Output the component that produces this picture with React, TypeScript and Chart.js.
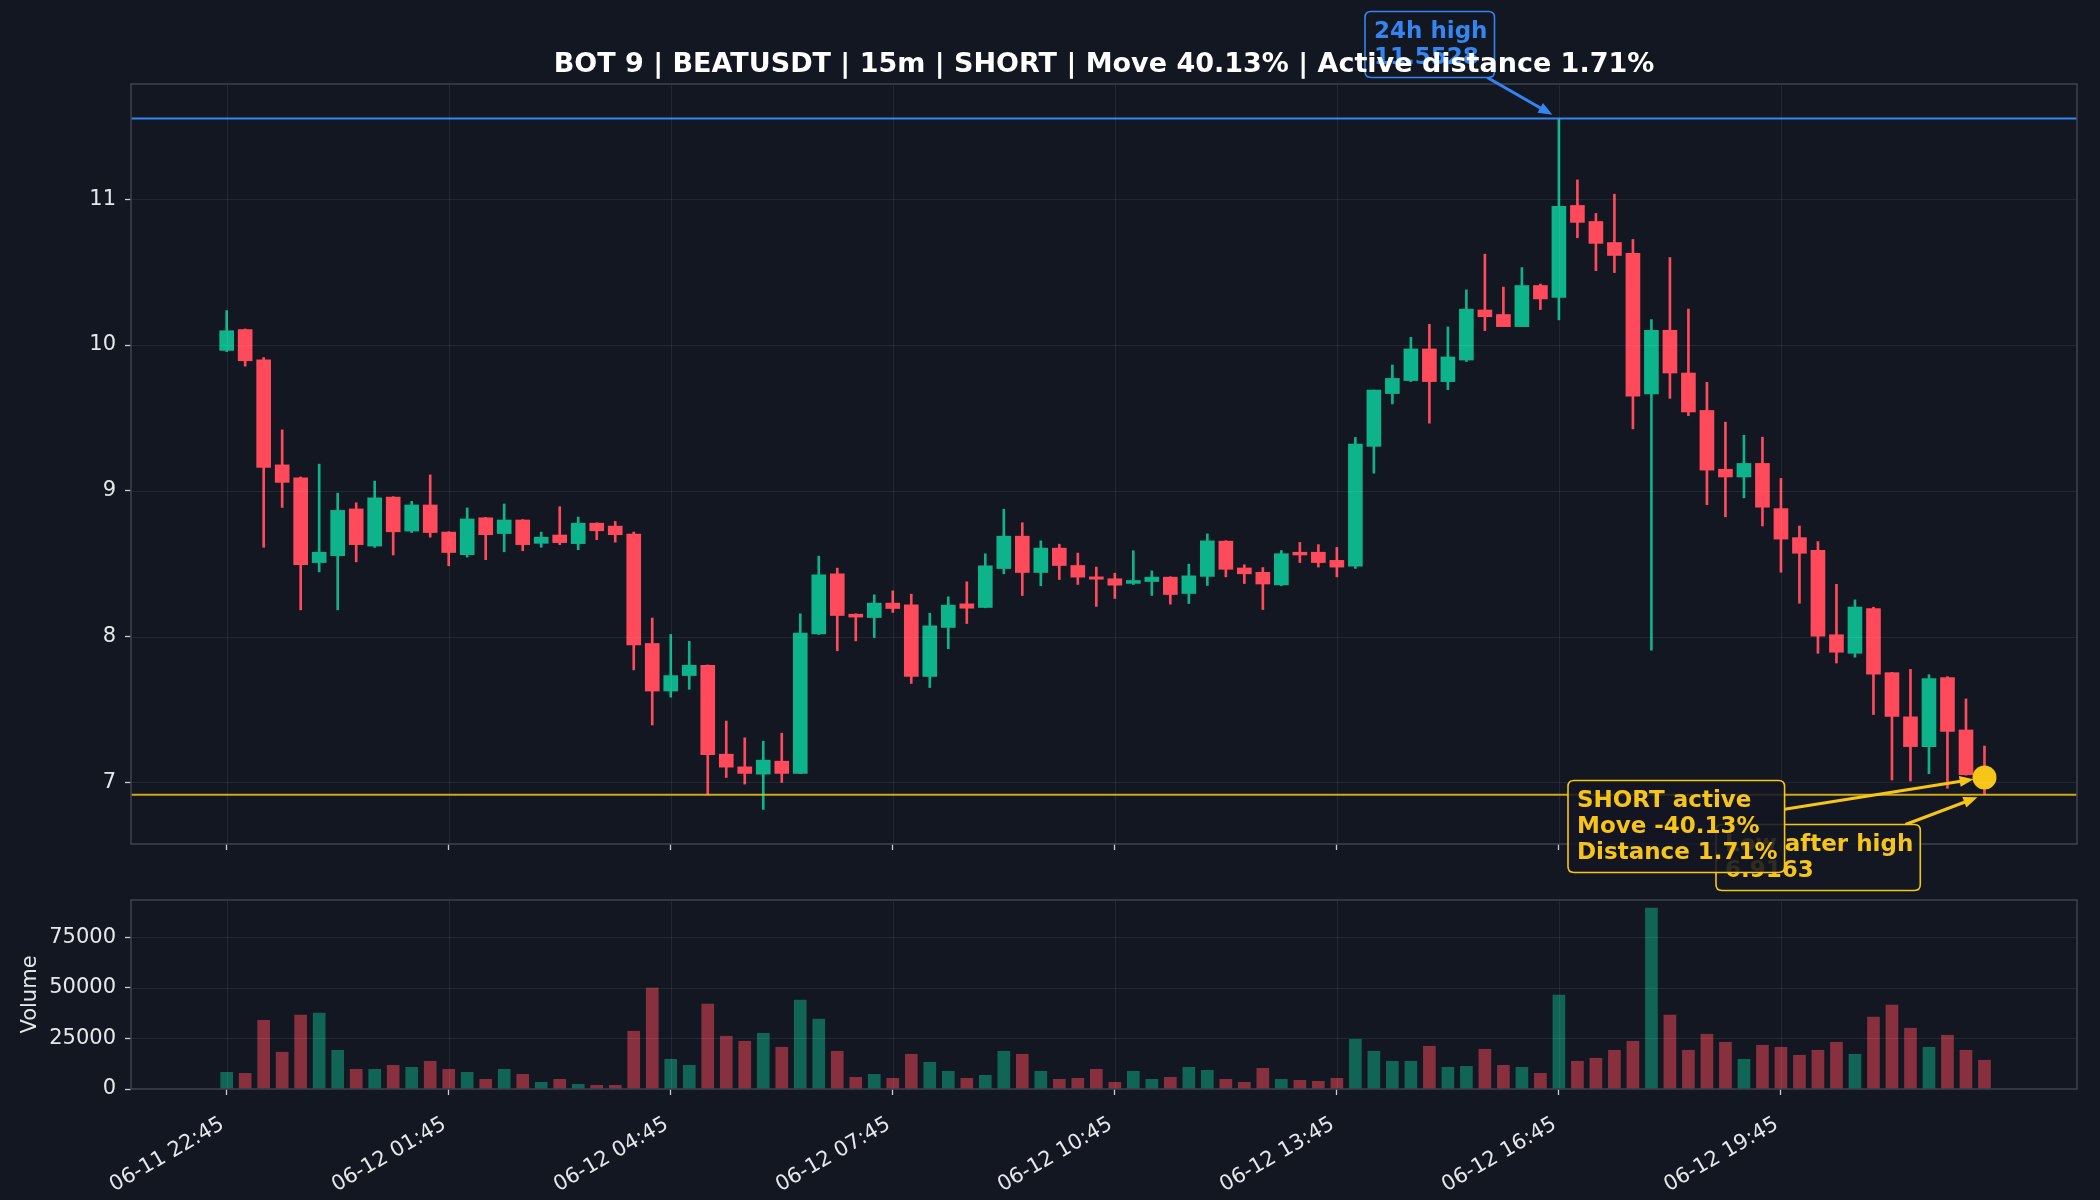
import { useEffect, useRef } from "react";
import { Chart, registerables } from "chart.js";

Chart.register(...registerables);

// ---------------- data ----------------
const opens = [9.963,10.106,9.899,9.178,9.090,8.508,8.555,8.876,8.621,8.957, 8.724,8.903,8.717,8.562,8.815,8.707,8.800,8.640,8.697,8.638, 8.778,8.758,8.704,7.953,7.627,7.733,7.804,7.194,7.107,7.057, 7.146,7.062,8.019,8.431,8.154,8.131,8.230,8.218,7.727,8.063, 8.225,8.200,8.467,8.689,8.440,8.607,8.488,8.410,8.397,8.365, 8.378,8.408,8.296,8.413,8.655,8.471,8.441,8.355,8.579,8.579, 8.523,8.483,9.305,9.667,9.756,9.973,9.749,9.897,10.240,10.209, 10.126,10.408,10.326,10.957,10.847,10.703,10.629,9.664,10.101,9.808, 9.551,9.148,9.095,9.188,8.878,8.679,8.592,8.013,7.886,8.192, 7.753,7.450,7.246,7.719,7.360,7.053];
const highs = [10.236,10.110,9.914,9.418,9.095,9.183,8.984,8.918,9.067,8.960, 8.928,9.109,8.720,8.883,8.818,8.910,8.803,8.717,8.891,8.820, 8.781,8.790,8.717,8.128,8.015,7.968,7.806,7.421,7.306,7.283, 7.338,8.157,8.552,8.470,8.157,8.287,8.314,8.291,8.161,8.273, 8.376,8.568,8.874,8.781,8.657,8.634,8.573,8.477,8.435,8.589, 8.451,8.411,8.497,8.705,8.658,8.493,8.474,8.591,8.646,8.631, 8.612,9.366,9.691,9.863,10.053,10.142,10.124,10.378,10.623,10.397, 10.531,10.418,11.5528,11.132,10.902,11.034,10.724,10.175,10.600,10.247, 9.744,9.471,9.381,9.368,9.085,8.759,8.652,8.359,8.252,8.202, 7.755,7.776,7.739,7.726,7.573,7.250];
const lows = [9.955,9.855,8.613,8.886,8.184,8.444,8.184,8.513,8.612,8.560, 8.714,8.682,8.486,8.545,8.528,8.582,8.589,8.613,8.631,8.596, 8.665,8.648,7.772,7.394,7.585,7.639,6.916,7.034,6.989,6.815, 7.000,7.060,8.015,7.903,7.971,7.994,8.166,7.679,7.651,7.917, 8.090,8.198,8.431,8.282,8.349,8.392,8.358,8.207,8.262,8.358, 8.282,8.223,8.227,8.351,8.410,8.364,8.186,8.349,8.508,8.477, 8.410,8.468,9.121,9.596,9.749,9.464,9.694,9.887,10.099,10.126, 10.126,10.243,10.172,10.736,10.510,10.497,9.425,7.908,9.634,9.515, 8.905,8.822,8.952,8.759,8.442,8.229,7.886,7.819,7.859,7.466, 7.017,7.010,7.060,6.960,7.050,6.9163];
const closes = [10.098,9.892,9.161,9.058,8.493,8.579,8.866,8.631,8.952,8.719, 8.903,8.714,8.577,8.807,8.699,8.800,8.631,8.682,8.645,8.778, 8.726,8.699,7.944,7.627,7.733,7.804,7.190,7.105,7.062,7.153, 7.062,8.024,8.424,8.145,8.134,8.230,8.193,7.727,8.074,8.216, 8.195,8.486,8.689,8.440,8.607,8.488,8.408,8.394,8.353,8.385, 8.408,8.289,8.417,8.657,8.462,8.431,8.361,8.569,8.560,8.508, 8.477,9.320,9.691,9.771,9.973,9.749,9.918,10.246,10.194,10.126, 10.408,10.316,10.951,10.841,10.697,10.614,9.650,10.100,9.808,9.541, 9.142,9.095,9.188,8.888,8.669,8.572,8.003,7.893,8.203,7.743, 7.453,7.246,7.713,7.350,7.053,7.0346];
const volumes = [8260,7764,34030,18170,36510,37500,19160,9750,9750,11730, 10740,13710,9750,8260,4790,9750,7270,3300,4790,2310, 1820,1820,28580,49890,14700,11730,41960,26100,23620,27590, 20650,43940,34530,18670,5780,7270,5290,17180,13220,8760, 5290,6770,18670,17180,8760,4790,5290,9750,3300,8760, 4790,5780,10740,9250,4790,3300,10240,4790,4300,3800, 5290,24610,18670,13710,13710,21150,10740,11230,19660,11730, 10740,7760,46420,13710,15200,19160,23620,89540,36510,19160, 27090,23130,14700,21640,20650,16690,19160,23130,17180,35520, 41470,30070,20650,26600,19160,14210];

const tickIndex = [0, 12, 24, 36, 48, 60, 72, 84];
const tickLabels = ["06-11 22:45", "06-12 01:45", "06-12 04:45", "06-12 07:45", "06-12 10:45", "06-12 13:45", "06-12 16:45", "06-12 19:45"];
const priceTicks = [7, 8, 9, 10, 11];
const volumeTicks = [0, 25000, 50000, 75000];

const high24 = 11.5528;
const highIndex = 72;
const lowAfterHigh = 6.9163;
const lastIndex = 95;
const lastClose = 7.0346;
const movePct = 40.13;
const distancePct = 1.71;
const titleText = "BOT 9 | BEATUSDT | 15m | SHORT | Move 40.13% | Active distance 1.71%";

// ---------------- style ----------------
const FONT = "'DejaVu Sans', 'Liberation Sans', sans-serif";
const BG = "#131722";
const UP = "#0db38a";
const DOWN = "#ff4a5c";
const UP_VOL = "rgba(13,179,138,0.5)";
const DOWN_VOL = "rgba(255,74,92,0.5)";
const BLUE = "#3385f2";
const YELLOW = "#f7c518";
const YELLOW_LINE = "rgba(240,192,24,0.85)";
const GRID = "rgba(255,255,255,0.07)";
const FRAME = "#3b404a";
const TICK = "#c9ccd2";
const TEXT = "#e6e7ea";

const X_MIN = -5.17;
const X_MAX = 100.0;
const Y_MIN = 6.578;
const Y_MAX = 11.79;
const V_MAX = 93500;

const isUp = closes.map((c, i) => c >= opens[i]);

function overlayGrid(chart: any, xs: number[], ys: number[]) {
  const { ctx, chartArea: a, scales } = chart;
  ctx.save();
  ctx.beginPath();
  ctx.rect(a.left, a.top, a.right - a.left, a.bottom - a.top);
  ctx.clip();
  ctx.strokeStyle = GRID;
  ctx.lineWidth = 1;
  for (const v of xs) {
    const px = Math.round(scales.x.getPixelForValue(v)) + 0.5;
    ctx.beginPath(); ctx.moveTo(px, a.top); ctx.lineTo(px, a.bottom); ctx.stroke();
  }
  for (const v of ys) {
    const py = Math.round(scales.y.getPixelForValue(v)) + 0.5;
    ctx.beginPath(); ctx.moveTo(a.left, py); ctx.lineTo(a.right, py); ctx.stroke();
  }
  ctx.restore();
}

function drawFrame(chart: any) {
  const { ctx, chartArea: a } = chart;
  ctx.save();
  ctx.strokeStyle = FRAME;
  ctx.lineWidth = 1.6;
  ctx.strokeRect(a.left, a.top, a.right - a.left, a.bottom - a.top);
  ctx.restore();
}

function roundRect(ctx: CanvasRenderingContext2D, x: number, y: number, w: number, h: number, r: number) {
  ctx.beginPath();
  ctx.moveTo(x + r, y);
  ctx.lineTo(x + w - r, y);
  ctx.quadraticCurveTo(x + w, y, x + w, y + r);
  ctx.lineTo(x + w, y + h - r);
  ctx.quadraticCurveTo(x + w, y + h, x + w - r, y + h);
  ctx.lineTo(x + r, y + h);
  ctx.quadraticCurveTo(x, y + h, x, y + h - r);
  ctx.lineTo(x, y + r);
  ctx.quadraticCurveTo(x, y, x + r, y);
  ctx.closePath();
}

function drawAnnotation(ctx: CanvasRenderingContext2D, lines: string[], textX: number, baseY: number,
  color: string, tx: number, ty: number, shrink: number, fillAlpha: number) {
  ctx.save();
  ctx.font = `bold 23px ${FONT}`;
  const lh = 26;
  const w = Math.max(...lines.map((l) => ctx.measureText(l).width));
  const bx = textX - 9, by = baseY - 26.5, bw = w + 16, bh = (lines.length - 1) * lh + 40;
  const cx = bx + bw / 2, cy = by + bh / 2;
  const dx = tx - cx, dy = ty - cy;
  let t = Infinity;
  if (dx !== 0) t = Math.min(t, (bw / 2) / Math.abs(dx));
  if (dy !== 0) t = Math.min(t, (bh / 2) / Math.abs(dy));
  const sx = cx + dx * t, sy = cy + dy * t;
  const len = Math.hypot(dx, dy);
  const ux = dx / len, uy = dy / len;
  const ex = tx - ux * shrink, ey = ty - uy * shrink;
  const head = 14, hw = 5.5;
  ctx.strokeStyle = color;
  ctx.fillStyle = color;
  ctx.lineWidth = 3;
  ctx.beginPath();
  ctx.moveTo(sx, sy);
  ctx.lineTo(ex - ux * head * 0.8, ey - uy * head * 0.8);
  ctx.stroke();
  ctx.beginPath();
  ctx.moveTo(ex, ey);
  ctx.lineTo(ex - ux * head - uy * hw, ey - uy * head + ux * hw);
  ctx.lineTo(ex - ux * head + uy * hw, ey - uy * head - ux * hw);
  ctx.closePath();
  ctx.fill();
  // box
  roundRect(ctx, bx, by, bw, bh, 6);
  ctx.globalAlpha = fillAlpha;
  ctx.fillStyle = BG;
  ctx.fill();
  ctx.globalAlpha = 1;
  ctx.lineWidth = 1.6;
  ctx.strokeStyle = color;
  ctx.stroke();
  ctx.fillStyle = color;
  ctx.textAlign = "left";
  ctx.textBaseline = "alphabetic";
  lines.forEach((l, i) => ctx.fillText(l, textX, baseY + i * lh));
  ctx.restore();
}

const pricePlugin = {
  id: "priceDecor",
  afterDatasetsDraw(chart: any) {
    overlayGrid(chart, tickIndex, priceTicks);
  },
  afterDraw(chart: any) {
    const { ctx, scales, chartArea: a } = chart;
    drawFrame(chart);
    const hx = scales.x.getPixelForValue(highIndex), hy = scales.y.getPixelForValue(high24);
    const lx = scales.x.getPixelForValue(lastIndex);
    const ly = scales.y.getPixelForValue(lowAfterHigh);
    const cy = scales.y.getPixelForValue(lastClose);
    drawAnnotation(ctx, ["24h high", high24.toFixed(4)], 1374, 38, BLUE, hx, hy, 7.5, 0.9);
    drawAnnotation(ctx, ["Low after high", lowAfterHigh.toFixed(4)], 1725, 851, YELLOW, lx, ly, 7.5, 0.9);
    drawAnnotation(ctx, ["SHORT active", `Move -${movePct.toFixed(2)}%`, `Distance ${distancePct.toFixed(2)}%`], 1577, 807, YELLOW, lx, cy, 11, 0.88);
    ctx.save();
    ctx.font = `bold 27px ${FONT}`;
    ctx.fillStyle = "#ffffff";
    ctx.textAlign = "center";
    ctx.textBaseline = "alphabetic";
    ctx.fillText(titleText, (a.left + a.right) / 2, 72);
    ctx.restore();
  },
};

const volumePlugin = {
  id: "volDecor",
  afterDatasetsDraw(chart: any) {
    overlayGrid(chart, tickIndex, volumeTicks);
  },
  afterDraw(chart: any) {
    drawFrame(chart);
  },
};

const tickFont = { family: FONT, size: 21 };

export default function App() {
  const priceRef = useRef<HTMLCanvasElement>(null);
  const volRef = useRef<HTMLCanvasElement>(null);

  useEffect(() => {
    document.body.style.margin = "0";
    document.body.style.background = BG;
    const candleColors = isUp.map((u) => (u ? UP : DOWN));
    const volColors = isUp.map((u) => (u ? UP_VOL : DOWN_VOL));

    const price = new Chart(priceRef.current as HTMLCanvasElement, {
      type: "bar",
      data: {
        datasets: [
          {
            type: "scatter",
            data: [{ x: lastIndex, y: lastClose }],
            pointRadius: 12,
            pointBackgroundColor: YELLOW,
            pointBorderWidth: 0,
            order: 0,
          } as any,
          {
            type: "line",
            data: [{ x: X_MIN, y: high24 }, { x: X_MAX, y: high24 }],
            borderColor: BLUE,
            borderWidth: 2,
            pointRadius: 0,
            order: 1,
          } as any,
          {
            type: "line",
            data: [{ x: X_MIN, y: lowAfterHigh }, { x: X_MAX, y: lowAfterHigh }],
            borderColor: YELLOW_LINE,
            borderWidth: 2,
            pointRadius: 0,
            order: 1,
          } as any,
          {
            type: "bar",
            data: opens.map((o, i) => ({ x: i, y: [o, closes[i]] })),
            backgroundColor: candleColors,
            barThickness: 14,
            grouped: false,
            minBarLength: 1.5,
            borderWidth: 0,
            order: 2,
          } as any,
          {
            type: "bar",
            data: lows.map((l, i) => ({ x: i, y: [l, highs[i]] })),
            backgroundColor: candleColors,
            barThickness: 2,
            grouped: false,
            borderWidth: 0,
            order: 3,
          } as any,
        ],
      },
      options: {
        responsive: false,
        animation: false,
        devicePixelRatio: 1,
        layout: { padding: { left: 0, right: 23, top: 84, bottom: 46 } },
        plugins: { legend: { display: false }, tooltip: { enabled: false }, title: { display: false } },
        scales: {
          x: {
            type: "linear",
            min: X_MIN,
            max: X_MAX,
            offset: false,
            bounds: "data",
            afterBuildTicks: (s: any) => { s.ticks = tickIndex.map((v) => ({ value: v })); },
            afterFit: (s: any) => { s.height = 10; s.paddingLeft = 0; s.paddingRight = 0; },
            ticks: { display: false },
            grid: { offset: false, drawOnChartArea: false, drawTicks: true, tickLength: 6, tickColor: TICK, tickWidth: 1.3 },
            border: { display: false },
          },
          y: {
            type: "linear",
            min: Y_MIN,
            max: Y_MAX,
            bounds: "data",
            afterBuildTicks: (s: any) => { s.ticks = priceTicks.map((v) => ({ value: v })); },
            afterFit: (s: any) => { s.width = 131; s.paddingTop = 0; s.paddingBottom = 0; },
            ticks: { color: TEXT, font: tickFont, padding: 9, callback: (v: any) => String(v) },
            grid: { drawOnChartArea: false, drawTicks: true, tickLength: 6, tickColor: TICK, tickWidth: 1.3 },
            border: { display: false },
          },
        },
      } as any,
      plugins: [pricePlugin],
    });

    const vol = new Chart(volRef.current as HTMLCanvasElement, {
      type: "bar",
      data: {
        datasets: [
          {
            data: volumes.map((v, i) => ({ x: i, y: v })),
            backgroundColor: volColors,
            barThickness: 12,
            borderWidth: 0,
          } as any,
        ],
      },
      options: {
        responsive: false,
        animation: false,
        devicePixelRatio: 1,
        layout: { padding: { left: 0, right: 23, top: 10, bottom: 0 } },
        plugins: { legend: { display: false }, tooltip: { enabled: false } },
        scales: {
          x: {
            type: "linear",
            min: X_MIN,
            max: X_MAX,
            offset: false,
            bounds: "data",
            afterBuildTicks: (s: any) => { s.ticks = tickIndex.map((v) => ({ value: v })); },
            afterFit: (s: any) => { s.height = 111; s.paddingLeft = 0; s.paddingRight = 0; },
            ticks: {
              color: TEXT,
              font: tickFont,
              autoSkip: false,
              maxRotation: 30,
              minRotation: 30,
              padding: 17,
              labelOffset: -4,
              callback: (v: any) => {
                const k = tickIndex.indexOf(Number(v));
                return k >= 0 ? tickLabels[k] : "";
              },
            },
            grid: { offset: false, drawOnChartArea: false, drawTicks: true, tickLength: 6, tickColor: TICK, tickWidth: 1.3 },
            border: { display: false },
          },
          y: {
            type: "linear",
            min: 0,
            max: V_MAX,
            bounds: "data",
            afterBuildTicks: (s: any) => { s.ticks = volumeTicks.map((v) => ({ value: v })); },
            afterFit: (s: any) => { s.width = 131; s.paddingTop = 0; s.paddingBottom = 0; },
            ticks: { color: TEXT, font: tickFont, padding: 9, callback: (v: any) => String(v) },
            grid: { drawOnChartArea: false, drawTicks: true, tickLength: 6, tickColor: TICK, tickWidth: 1.3 },
            border: { display: false },
            title: { display: true, text: "Volume", color: TEXT, font: tickFont, padding: { top: 18, bottom: 0 } },
          },
        },
      } as any,
      plugins: [volumePlugin],
    });

    return () => {
      price.destroy();
      vol.destroy();
    };
  }, []);

  return (
    <div style={{ position: "relative", width: 2100, height: 1200, background: BG, overflow: "hidden" }}>
      <canvas ref={volRef} width={2100} height={310} style={{ position: "absolute", left: 0, top: 890, width: 2100, height: 310 }} />
      <canvas ref={priceRef} width={2100} height={900} style={{ position: "absolute", left: 0, top: 0, width: 2100, height: 900 }} />
    </div>
  );
}
